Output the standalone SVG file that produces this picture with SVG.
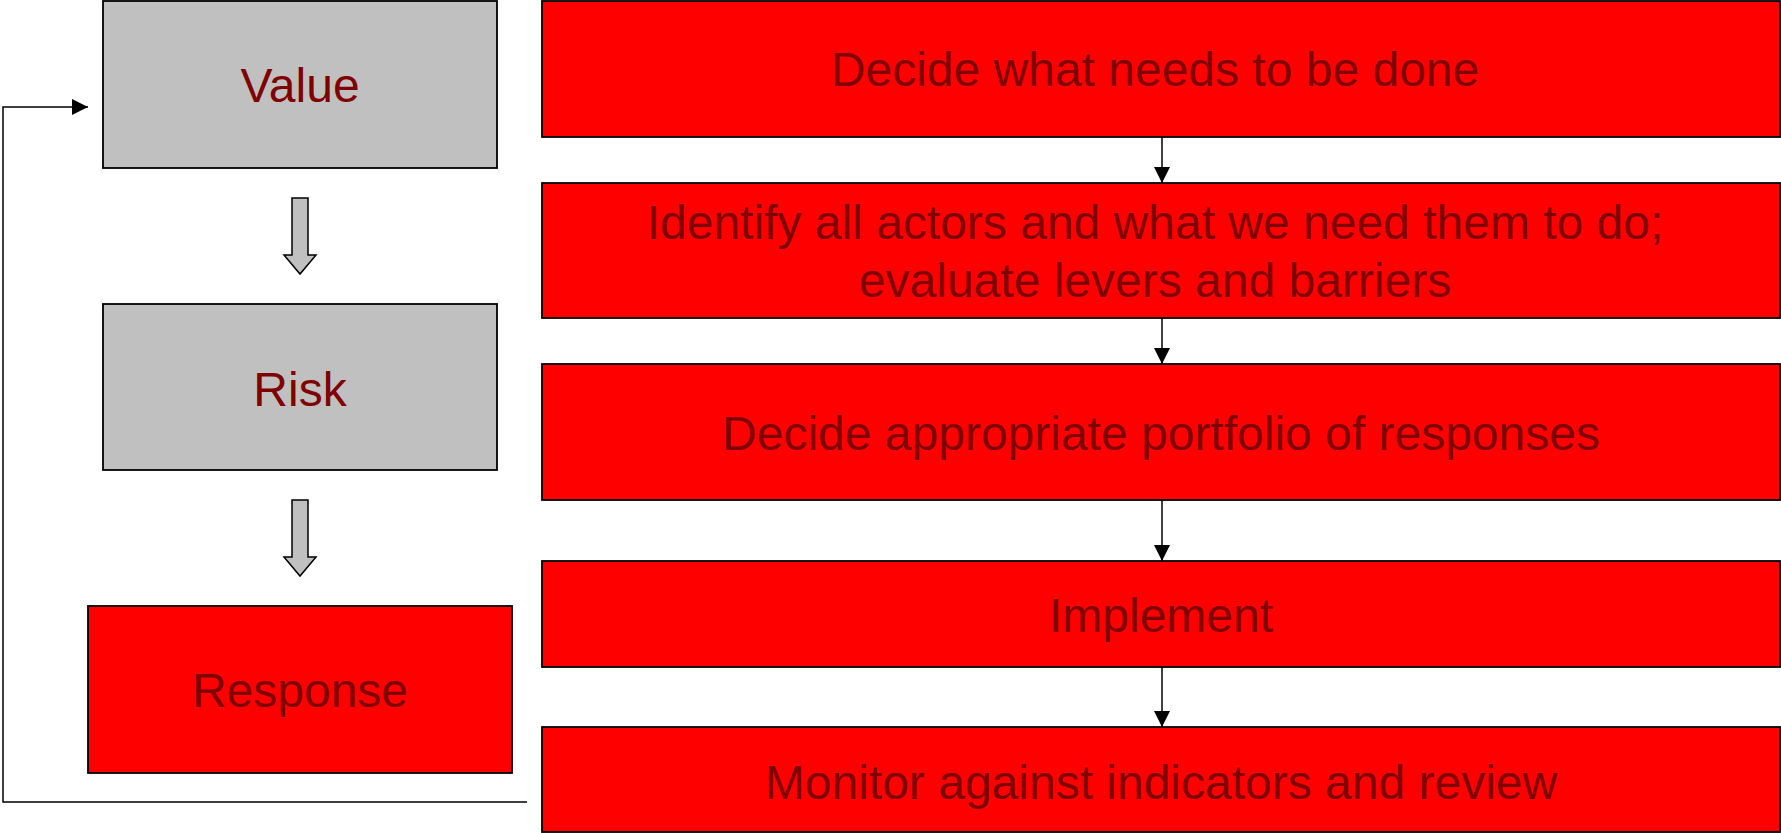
<svg xmlns="http://www.w3.org/2000/svg" width="1781" height="833" viewBox="0 0 1781 833">
<style>
.box{stroke:#000;stroke-width:1.8}
.gray{fill:#C0C0C0}
.red{fill:#FF0000}
.lbl{font-family:"Liberation Sans",Arial,sans-serif;font-size:48px;fill:#800000;text-anchor:middle}
.conn{fill:none;stroke:#000;stroke-width:1.5}
.blk{fill:#C0C0C0;stroke:#000;stroke-width:1.5}
</style>
<defs>
<marker id="ah" viewBox="0 0 16 16" refX="16" refY="8" markerWidth="16" markerHeight="16" markerUnits="userSpaceOnUse" orient="auto">
<path d="M0,0 L16,8 L0,16 Z" fill="#000"/>
</marker>
</defs>
<rect width="1781" height="833" fill="#fff"/>
<g id="value"><rect class="box gray" x="103" y="1" width="394" height="167"/><text class="lbl" x="300" y="102">Value</text></g>
<g id="risk"><rect class="box gray" x="103" y="304" width="394" height="166"/><text class="lbl" x="300" y="406">Risk</text></g>
<g id="response"><rect class="box red" x="88" y="606" width="424" height="167"/><text class="lbl" x="300" y="707">Response</text></g>
<g id="step1"><rect class="box red" x="542" y="1" width="1238" height="136"/><text class="lbl" x="1155" y="86">Decide what needs to be done</text></g>
<g id="step2"><rect class="box red" x="542" y="183" width="1238" height="135"/><text class="lbl" x="1155" y="239">Identify all actors and what we need them to do;</text><text class="lbl" x="1155" y="297">evaluate levers and barriers</text></g>
<g id="step3"><rect class="box red" x="542" y="364" width="1238" height="136"/><text class="lbl" x="1161" y="450">Decide appropriate portfolio of responses</text></g>
<g id="step4"><rect class="box red" x="542" y="561" width="1238" height="106"/><text class="lbl" x="1161" y="632">Implement</text></g>
<g id="step5"><rect class="box red" x="542" y="727" width="1238" height="105"/><text class="lbl" x="1161" y="799">Monitor against indicators and review</text></g>
<g id="connectors">
<path class="blk" d="M292,198 H308 V255 H316 L300,274 L284,255 H292 Z"/>
<path class="blk" d="M292,500 H308 V557 H316 L300,576 L284,557 H292 Z"/>
<line class="conn" x1="1162" y1="137" x2="1162" y2="183" marker-end="url(#ah)"/>
<line class="conn" x1="1162" y1="318" x2="1162" y2="364" marker-end="url(#ah)"/>
<line class="conn" x1="1162" y1="500" x2="1162" y2="561" marker-end="url(#ah)"/>
<line class="conn" x1="1162" y1="667" x2="1162" y2="727" marker-end="url(#ah)"/>
<polyline class="conn" points="527,802 3,802 3,107 88,107" marker-end="url(#ah)"/>
</g>
</svg>
